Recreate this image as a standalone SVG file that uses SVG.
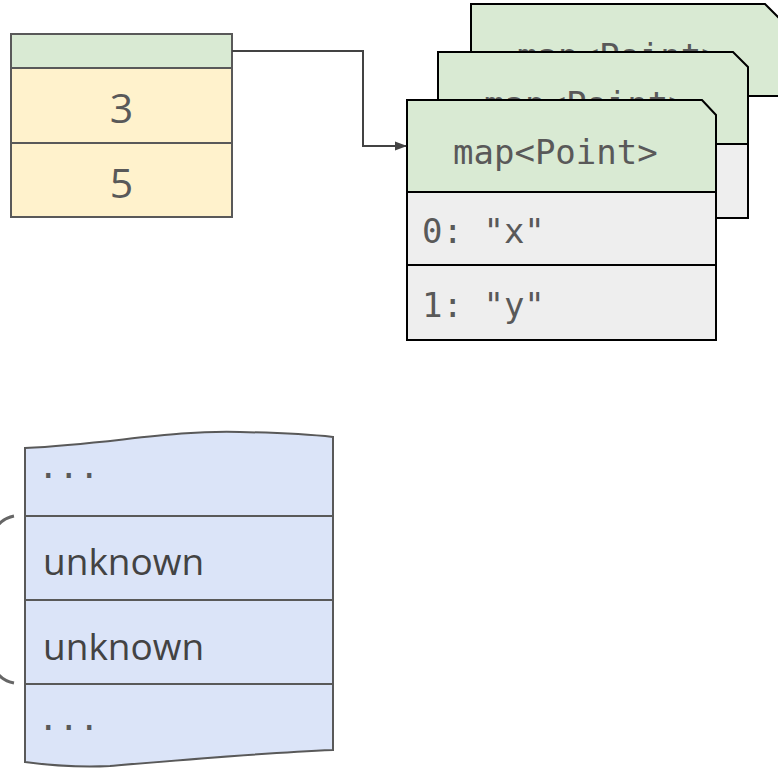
<svg xmlns="http://www.w3.org/2000/svg" width="778" height="769" viewBox="0 0 778 769">
<style>
.box{stroke:#595959;stroke-width:2}
.card{stroke:#000;stroke-width:2}
.green{fill:#d9ead3}
.yellow{fill:#fff2cc}
.gray{fill:#eeeeee}
.blue{fill:#dbe4f8}
.mono{font-family:"DejaVu Sans Mono","Liberation Mono",monospace;font-size:34px;fill:#595959}
.sans{font-family:"Open Sans","Noto Sans",sans-serif;fill:#595959}
.dark{fill:#434343}
.conn{fill:none;stroke:#434343;stroke-width:2}
</style>
<defs>
<marker id="arrow" markerWidth="12" markerHeight="10" refX="11" refY="5" orient="auto" markerUnits="userSpaceOnUse">
<path d="M0,0.5 L12,5 L0,9.5 Z" fill="#434343"/>
</marker>
</defs>
<rect width="778" height="769" fill="#fff"/>

<g id="struct">
<rect class="box green" x="11" y="34" width="221" height="34"/>
<rect class="box yellow" x="11" y="68" width="221" height="75"/>
<rect class="box yellow" x="11" y="143" width="221" height="74"/>
<text class="sans" x="121.5" y="123" font-size="41" text-anchor="middle">3</text>
<text class="sans" x="121.5" y="198" font-size="41" text-anchor="middle">5</text>
</g>

<g id="card3">
<path class="card green" d="M471,4 L765,4 L780,19 L780,96 L471,96 Z"/>
<text class="mono" x="517" y="68">map&lt;Point&gt;</text>
</g>

<g id="card2">
<rect class="card gray" x="438" y="144" width="310" height="74"/>
<path class="card green" d="M438,52 L733,52 L748,67 L748,144 L438,144 Z"/>
<text class="mono" x="484" y="116">map&lt;Point&gt;</text>
</g>

<g id="card1">
<rect class="card gray" x="407" y="192" width="309" height="73"/>
<rect class="card gray" x="407" y="265" width="309" height="75"/>
<path class="card green" d="M407,100 L702,100 L716,115 L716,192 L407,192 Z"/>
<text class="mono" x="453" y="164">map&lt;Point&gt;</text>
<text class="mono" x="422" y="243">0: "x"</text>
<text class="mono" x="422" y="317">1: "y"</text>
</g>

<g id="memory">
<path class="box blue" d="M25,448 C110,444 170,430 240,432 C290,433 315,435 333,437 L333,750 C260,753 180,760 110,766 C70,768 40,764 25,762 Z"/>
<line class="box" x1="25" y1="516" x2="333" y2="516"/>
<line class="box" x1="25" y1="600" x2="333" y2="600"/>
<line class="box" x1="25" y1="684" x2="333" y2="684"/>
<text class="mono" x="38" y="478">...</text>
<text class="sans dark" x="43" y="575" font-size="37">unknown</text>
<text class="sans dark" x="43" y="660" font-size="37">unknown</text>
<text class="mono" x="38" y="730">...</text>
</g>

<g id="brace">
<path d="M14,516 Q-6,520 -10,545 L-10,655 Q-6,679 14,683" fill="none" stroke="#666" stroke-width="3"/>
</g>

<g id="connectors">
<path class="conn" d="M232,51 L363,51 L363,146 L406,146" marker-end="url(#arrow)"/>
</g>
</svg>
